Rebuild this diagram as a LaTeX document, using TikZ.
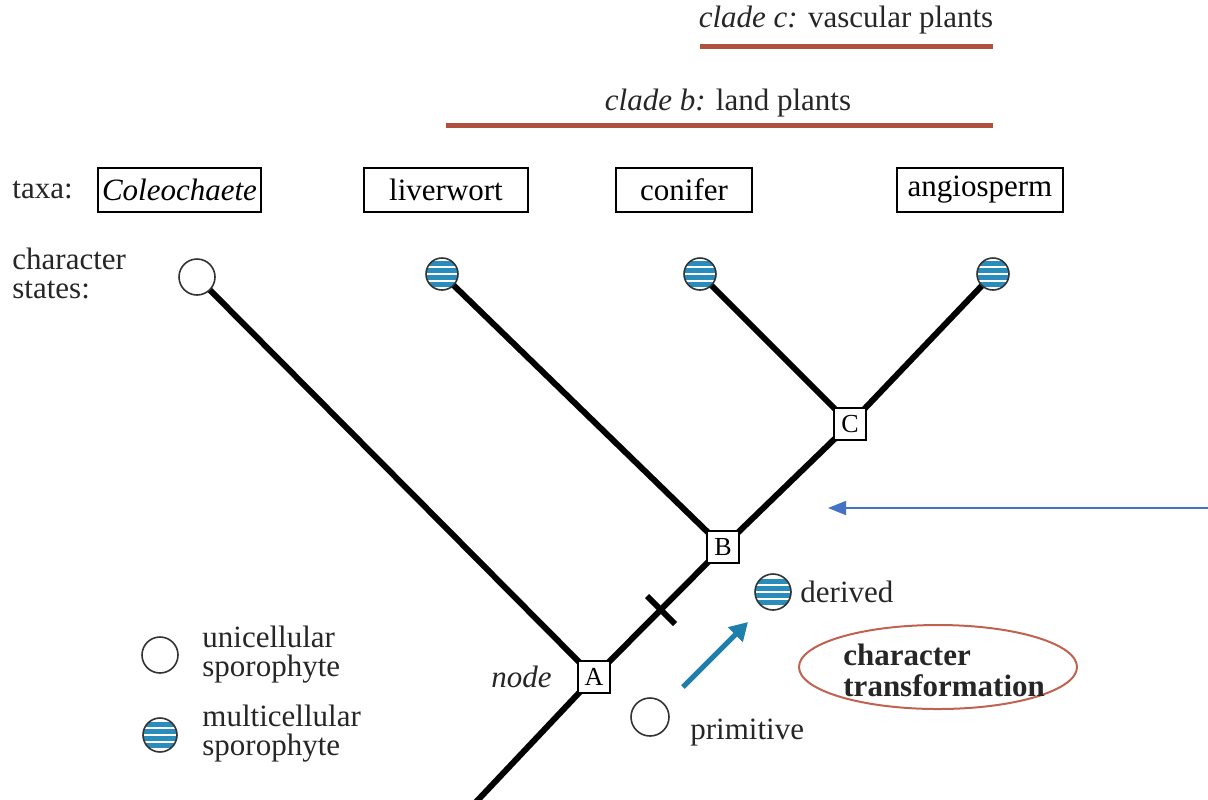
\documentclass[tikz,border=0pt]{standalone}
\usepackage{fontspec}
\setmainfont{Liberation Serif}
\usetikzlibrary{arrows.meta,shapes.geometric,backgrounds}
\definecolor{cladecol}{HTML}{B0503F}
\definecolor{stripecol}{HTML}{2A8CBB}
\definecolor{trarrow}{HTML}{1E7FAA}
\definecolor{pointercol}{HTML}{4472C4}
\definecolor{ellcol}{HTML}{C06250}
\newcommand\txtfont{\fontsize{15.5}{14.5}\selectfont}
\begin{document}
\begin{tikzpicture}[x=0.5pt,y=-0.5pt,
  lbl/.style={font=\txtfont, inner sep=0pt, text=black!85},
  taxon/.style={draw, line width=1pt, minimum height=22pt, inner sep=0pt, font=\txtfont},
  state/.style={circle, draw=black!80, line width=0.8pt, minimum size=17pt, inner sep=0pt, fill=white},
  multi/.style={state, path picture={
     \foreach \d in {-5.25,-1.75,1.75,5.25}{
       \draw[stripecol, line width=2.1pt] ([yshift=\d pt]path picture bounding box.west) -- ([yshift=\d pt]path picture bounding box.east);}}},
  junc/.style={draw, line width=1.2pt, fill=white, minimum size=16pt, inner sep=0pt, font=\fontsize{13}{13}\selectfont},
  branch/.style={line width=3pt},
  cladebar/.style={cladecol, line width=2.5pt}
]
\useasboundingbox (0,0) rectangle (1208,799);

% clades
\node[lbl] (cc) at (846,20) {\textit{clade c:} vascular plants};
\node[lbl] (cb) at (728,103) {\textit{clade b:} land plants};
\coordinate (cc1) at (700,46); \coordinate (cc2) at (993,46);
\coordinate (cb1) at (446,125); \coordinate (cb2) at (993,125);
\draw[cladebar] (cc1) -- (cc2);
\draw[cladebar] (cb1) -- (cb2);

% taxa
\node[lbl, anchor=west] (taxa) at (12,190) {taxa:};
\node[taxon, minimum width=81.5pt] (t1) at (179.5,190) {\textit{Coleochaete}};
\node[taxon, minimum width=82pt] (t2) at (446,190) {liverwort};
\node[taxon, minimum width=68pt] (t3) at (684,190) {conifer};
\node[taxon, minimum width=83pt] (t4) at (980,190) {angiosperm};

\node[lbl, anchor=west, align=left] (cs) at (12,273) {character\\states:};

% character states
\node[state, minimum size=18pt] (s1) at (197,277) {};
\node[multi, minimum size=16pt] (s2) at (442,274) {};
\node[multi, minimum size=16pt] (s3) at (700,274) {};
\node[multi, minimum size=16pt] (s4) at (993,274) {};

% internal nodes
\node[junc] (A) at (594,677) {A};
\node[junc] (B) at (723,547) {B};
\node[junc] (C) at (850,424) {C};
\coordinate (root) at (476,802);

\begin{pgfonlayer}{background}
\draw[branch] (s1.center) -- (A.center);
\draw[branch] (s2.center) -- (B.center);
\draw[branch] (s3.center) -- (C.center);
\draw[branch] (s4.center) -- (C.center);
\draw[branch] (C.center) -- (B.center);
\draw[branch] (B.center) -- (A.center);
\draw[branch] (A.center) -- (root);
\end{pgfonlayer}

% tick
\coordinate (tk1) at (647,596); \coordinate (tk2) at (675,624);
\draw[branch] (tk1) -- (tk2);

\node[lbl, anchor=east] (nd) at (552,677) {\textit{node}};

% legend
\node[state, minimum size=18pt] (l1) at (160,655) {};
\node[lbl, anchor=west, align=left] (l1t) at (202,655) {unicellular\\sporophyte};
\node[multi, minimum size=17pt] (l2) at (160,735) {};
\node[lbl, anchor=west, align=left] (l2t) at (202,734) {multicellular\\sporophyte};

% transformation
\node[multi, minimum size=18pt] (der) at (773,592) {};
\node[lbl, anchor=west] (dert) at (800,592) {derived};
\node[state, minimum size=19pt] (prim) at (650,717) {};
\node[lbl, anchor=west] (primt) at (690,733) {primitive};
\coordinate (ta1) at (683,687); \coordinate (ta2) at (748,622);
\draw[trarrow, line width=2.5pt, -{Triangle[length=9pt,width=10pt]}] (ta1) -- (ta2);

\node[ellipse, draw=ellcol, line width=1pt, minimum width=139pt, minimum height=42pt] (ell) at (938,667) {};
\node[lbl, anchor=west, align=left, font=\fontsize{15.5}{15.5}\selectfont\bfseries] (elt) at (843,670) {character\\transformation};

% pointer arrow
\coordinate (p1) at (1210,508); \coordinate (p2) at (828,508);
\draw[pointercol, line width=0.8pt, -{Triangle[length=9pt,width=7pt]}] (p1) -- (p2);
\end{tikzpicture}
\end{document}
